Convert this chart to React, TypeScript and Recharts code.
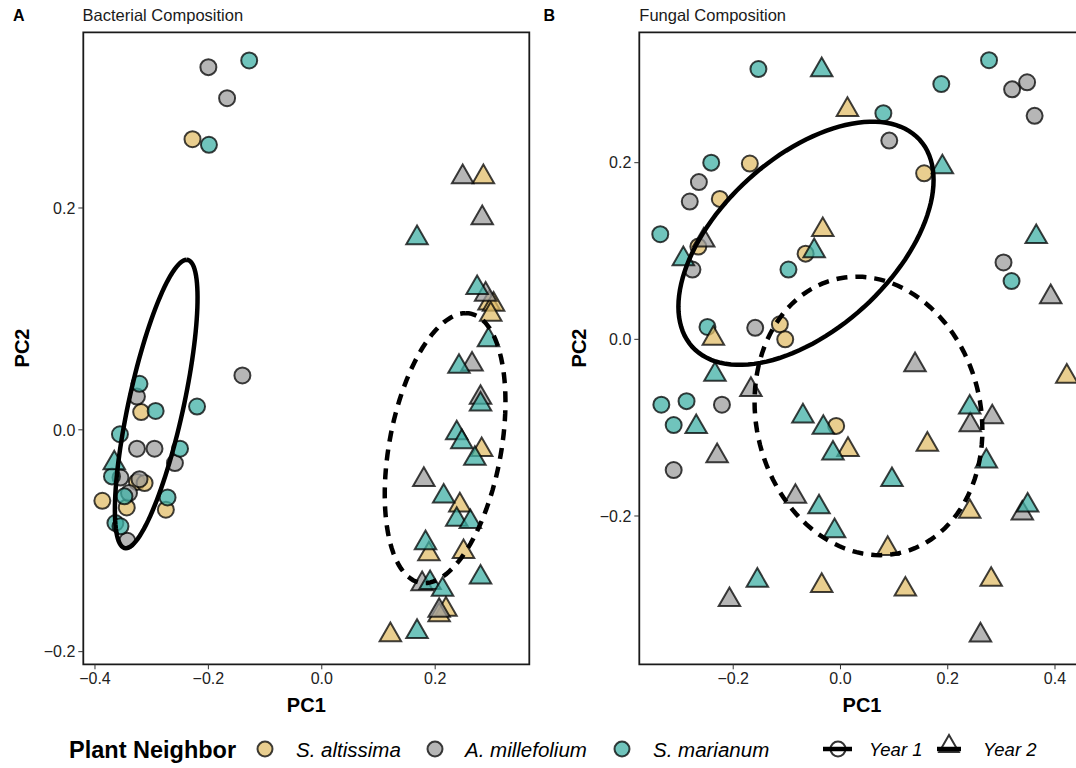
import { ScatterChart, Scatter, XAxis, YAxis, ReferenceArea } from "recharts"

type Pt = [number, number]

// Panel A — bacterial composition, year 1 (circles)
const bacAltissimaY1: Pt[] = [
  [-0.228, 0.262], [-0.3185, 0.016], [-0.326, -0.047], [-0.3125, -0.048],
  [-0.387, -0.064], [-0.344, -0.07], [-0.275, -0.072],
]
const bacMillefoliumY1: Pt[] = [
  [-0.2, 0.327], [-0.167, 0.299], [-0.14, 0.049], [-0.326, 0.03], [-0.326, -0.017],
  [-0.295, -0.017], [-0.259, -0.03], [-0.355, -0.043], [-0.3215, -0.0445],
  [-0.34, -0.057], [-0.343, -0.1],
]
const bacMarianumY1: Pt[] = [
  [-0.128, 0.333], [-0.199, 0.257], [-0.3215, 0.0415], [-0.293, 0.017], [-0.22, 0.021],
  [-0.356, -0.004], [-0.25, -0.017], [-0.37, -0.042], [-0.272, -0.061], [-0.348, -0.06],
  [-0.364, -0.084], [-0.355, -0.087],
]
// Panel A — year 2 (triangles)
const bacAltissimaY2: Pt[] = [
  [0.285, 0.228], [0.295, 0.114], [0.303, 0.113], [0.298, 0.104], [0.282, -0.018],
  [0.2435, -0.068], [0.189, -0.112], [0.25, -0.11], [0.219, -0.162], [0.207, -0.167],
  [0.121, -0.185],
]
const bacMillefoliumY2: Pt[] = [
  [0.2485, 0.228], [0.283, 0.191], [0.289, 0.122], [0.265, 0.059], [0.28, 0.029],
  [0.18, -0.045], [0.177, -0.139], [0.207, -0.163],
]
const bacMarianumY2: Pt[] = [
  [-0.366, -0.03], [0.168, 0.173], [0.274, 0.128], [0.294, 0.081], [0.242, 0.057],
  [0.28, 0.023], [0.238, -0.003], [0.247, -0.011], [0.27, -0.026], [0.215, -0.06],
  [0.238, -0.081], [0.262, -0.083], [0.183, -0.102], [0.28, -0.133], [0.191, -0.138],
  [0.213, -0.144], [0.168, -0.182],
]

// Panel B — fungal composition, year 1 (circles)
const funAltissimaY1: Pt[] = [
  [-0.169, 0.199], [-0.225, 0.159], [0.156, 0.188], [-0.265, 0.105], [-0.065, 0.097],
  [-0.113, 0.017], [-0.103, 0.0], [-0.008, -0.098],
]
const funMillefoliumY1: Pt[] = [
  [0.32, 0.283], [0.348, 0.291], [0.362, 0.253], [0.091, 0.225], [-0.264, 0.178],
  [-0.281, 0.156], [-0.276, 0.079], [0.304, 0.087], [-0.159, 0.013], [-0.221, -0.074],
  [-0.311, -0.148],
]
const funMarianumY1: Pt[] = [
  [-0.153, 0.306], [0.188, 0.289], [0.277, 0.316], [0.08, 0.256], [-0.241, 0.2],
  [-0.336, 0.119], [-0.097, 0.079], [0.319, 0.066], [-0.248, 0.014], [-0.334, -0.074],
  [-0.287, -0.07], [-0.311, -0.097],
]
// Panel B — year 2 (triangles)
const funAltissimaY2: Pt[] = [
  [0.013, 0.26], [-0.033, 0.124], [-0.237, 0.001], [0.422, -0.042], [0.014, -0.125],
  [0.162, -0.119], [0.088, -0.237], [0.241, -0.195], [-0.035, -0.279], [0.121, -0.283],
  [0.281, -0.272],
]
const funMillefoliumY2: Pt[] = [
  [-0.255, 0.112], [0.392, 0.048], [0.139, -0.029], [-0.167, -0.057], [-0.23, -0.132],
  [0.242, -0.097], [0.283, -0.088], [-0.084, -0.178], [0.339, -0.197], [-0.207, -0.295],
  [0.261, -0.335],
]
const funMarianumY2: Pt[] = [
  [-0.035, 0.305], [0.19, 0.195], [-0.049, 0.1], [-0.293, 0.091], [0.365, 0.116],
  [-0.234, -0.04], [-0.269, -0.099], [-0.07, -0.087], [-0.032, -0.1], [-0.014, -0.129],
  [0.096, -0.159], [0.241, -0.077], [0.272, -0.138], [-0.04, -0.19], [-0.011, -0.217],
  [0.349, -0.188], [-0.155, -0.273],
]

// ellipse: centre, semi-axis u, conjugate semi-axis v (data units)
const bacEllipseY1 = { c: [-0.292, 0.0233], u: [0.0536, 0.13], v: [0.0494, 0] }
const bacEllipseY2 = { c: [0.2175, -0.0165], u: [0.0365, 0.1217], v: [0.1, 0] }
const funEllipseY1 = { c: [-0.0643, 0.1087], u: [0.2379, 0.0717], v: [0, 0.1175] }
const funEllipseY2 = { c: [0.0522, -0.0867], u: [0.2124, -0.016], v: [0, 0.1568] }

const bacXTicks = [-0.4, -0.2, 0.0, 0.2]
const bacYTicks = [-0.2, 0.0, 0.2]
const funXTicks = [-0.2, 0.0, 0.2, 0.4]
const funYTicks = [-0.2, 0.0, 0.2]

const species = ["S. altissima", "A. millefolium", "S. marianum"]
const colors = ["#E1BE6A", "#9E9E9E", "#40B0A6"]

const FONT = "'Liberation Sans', Arial, sans-serif"

const toObj = (pts: Pt[]) => pts.map(([x, y]) => ({ x, y }))

function ellipsePoints(e: { c: number[]; u: number[]; v: number[] }) {
  const out: { x: number; y: number }[] = []
  for (let i = 0; i <= 120; i++) {
    const t = (i / 120) * Math.PI * 2
    out.push({
      x: e.c[0] + e.u[0] * Math.cos(t) + e.v[0] * Math.sin(t),
      y: e.c[1] + e.u[1] * Math.cos(t) + e.v[1] * Math.sin(t),
    })
  }
  return out
}

const circleShape = (fill: string) => (p: any) => (
  <circle cx={p.cx} cy={p.cy} r={8} fill={fill} fillOpacity={0.75}
    stroke="#000" strokeOpacity={0.75} strokeWidth={2} />
)

const triangleShape = (fill: string) => (p: any) => {
  const r = 12.4
  const hx = r * 0.866
  return (
    <path
      d={`M${p.cx},${p.cy - r}L${p.cx + hx},${p.cy + r / 2}L${p.cx - hx},${p.cy + r / 2}Z`}
      fill={fill} fillOpacity={0.75} stroke="#000" strokeOpacity={0.75} strokeWidth={2}
      strokeLinejoin="miter"
    />
  )
}

const fmt = (v: number) => v.toFixed(1).replace("-", "\u2212")

interface PanelProps {
  left: number
  width: number
  mLeft: number
  mRight: number
  xDomain: [number, number]
  yDomain: [number, number]
  xTicks: number[]
  yTicks: number[]
  year1: Pt[][]
  year2: Pt[][]
  ell1: { c: number[]; u: number[]; v: number[] }
  ell2: { c: number[]; u: number[]; v: number[] }
}

function Panel(props: PanelProps) {
  const { left, width, mLeft, mRight, xDomain, yDomain, xTicks, yTicks, year1, year2, ell1, ell2 } = props
  return (
    <div style={{ position: "absolute", left, top: 0 }}>
      <ScatterChart
        width={width}
        height={700}
        margin={{ top: 32.3, right: mRight, bottom: 5.7, left: mLeft }}
      >
        <XAxis
          type="number"
          dataKey="x"
          domain={xDomain}
          allowDataOverflow
          ticks={xTicks}
          tickFormatter={fmt}
          height={30}
          axisLine={false}
          tickSize={5}
          tickMargin={3}
          tickLine={{ stroke: "#333" }}
          tick={{ fill: "#222", fontSize: 16, fontFamily: FONT }}
        />
        <YAxis
          type="number"
          dataKey="y"
          domain={yDomain}
          allowDataOverflow
          ticks={yTicks}
          tickFormatter={fmt}
          width={60}
          axisLine={false}
          tickSize={5}
          tickMargin={3}
          tickLine={{ stroke: "#333" }}
          tick={{ fill: "#222", fontSize: 16, fontFamily: FONT }}
        />
        {year1.map((pts, i) => (
          <Scatter key={"c" + i} data={toObj(pts)} shape={circleShape(colors[i])} isAnimationActive={false} />
        ))}
        {year2.map((pts, i) => (
          <Scatter key={"t" + i} data={toObj(pts)} shape={triangleShape(colors[i])} isAnimationActive={false} />
        ))}
        <Scatter
          data={ellipsePoints(ell1)}
          line={{ stroke: "#000", strokeWidth: 4.5, fill: "none" }}
          lineType="joint"
          shape={() => <g />}
          isAnimationActive={false}
        />
        <Scatter
          data={ellipsePoints(ell2)}
          line={{ stroke: "#000", strokeWidth: 4.5, strokeDasharray: "11 8", fill: "none" }}
          lineType="joint"
          shape={() => <g />}
          isAnimationActive={false}
        />
        <ReferenceArea
          x1={xDomain[0]}
          x2={xDomain[1]}
          y1={yDomain[0]}
          y2={yDomain[1]}
          fill="none"
          stroke="#1a1a1a"
          strokeWidth={1.8}
          ifOverflow="visible"
        />
      </ScatterChart>
    </div>
  )
}

export default function App() {
  const legendX = [265, 435, 622]
  const legendTextX = [296, 465, 653]
  return (
    <div
      style={{
        position: "absolute",
        left: 0,
        top: 0,
        width: 1076,
        height: 768,
        overflow: "hidden",
        background: "#fff",
      }}
    >
      <Panel
        left={0}
        width={540}
        mLeft={23.3}
        mRight={10.7}
        xDomain={[-0.4206, 0.366]}
        yDomain={[-0.2114, 0.3584]}
        xTicks={bacXTicks}
        yTicks={bacYTicks}
        year1={[bacAltissimaY1, bacMillefoliumY1, bacMarianumY1]}
        year2={[bacAltissimaY2, bacMillefoliumY2, bacMarianumY2]}
        ell1={bacEllipseY1}
        ell2={bacEllipseY2}
      />
      <Panel
        left={540}
        width={560}
        mLeft={39.3}
        mRight={14.7}
        xDomain={[-0.3751, 0.4565]}
        yDomain={[-0.3679, 0.3476]}
        xTicks={funXTicks}
        yTicks={funYTicks}
        year1={[funAltissimaY1, funMillefoliumY1, funMarianumY1]}
        year2={[funAltissimaY2, funMillefoliumY2, funMarianumY2]}
        ell1={funEllipseY1}
        ell2={funEllipseY2}
      />
      <svg
        width={1076}
        height={768}
        style={{ position: "absolute", left: 0, top: 0, pointerEvents: "none" }}
        fontFamily={FONT}
      >
        <text x={13} y={21} fontSize={16} fontWeight="bold" fill="#000">A</text>
        <text x={82.6} y={21} fontSize={16.5} fill="#1a1a1a">Bacterial Composition</text>
        <text x={543.5} y={21} fontSize={16} fontWeight="bold" fill="#000">B</text>
        <text x={639.3} y={21} fontSize={16.5} fill="#1a1a1a">Fungal Composition</text>

        <text x={306.3} y={712} fontSize={20} fontWeight="bold" textAnchor="middle">PC1</text>
        <text x={862} y={712} fontSize={20} fontWeight="bold" textAnchor="middle">PC1</text>
        <text x={29} y={348} fontSize={20} fontWeight="bold" textAnchor="middle" transform="rotate(-90 29 348)">PC2</text>
        <text x={586} y={348} fontSize={20} fontWeight="bold" textAnchor="middle" transform="rotate(-90 586 348)">PC2</text>

        <text x={69} y={757.5} fontSize={23.5} fontWeight="bold">Plant Neighbor</text>
        {species.map((s, i) => (
          <g key={s}>
            <circle cx={legendX[i]} cy={749} r={7.5} fill={colors[i]} fillOpacity={0.75}
              stroke="#000" strokeOpacity={0.75} strokeWidth={2} />
            <text x={legendTextX[i]} y={756.5} fontSize={20.5} fontStyle="italic">{s}</text>
          </g>
        ))}
        <circle cx={838} cy={749} r={7.5} fill="none" stroke="#333" strokeWidth={2} />
        <line x1={823} x2={852} y1={749} y2={749} stroke="#000" strokeWidth={4.5} />
        <text x={869} y={756} fontSize={18.5} fontStyle="italic">Year 1</text>
        <path d="M949,735L958.8,752L939.2,752Z" fill="none" stroke="#333" strokeWidth={2} />
        <line x1={937} x2={961} y1={749} y2={749} stroke="#000" strokeWidth={4.5} />
        <text x={983} y={756} fontSize={18.5} fontStyle="italic">Year 2</text>
      </svg>
    </div>
  )
}
